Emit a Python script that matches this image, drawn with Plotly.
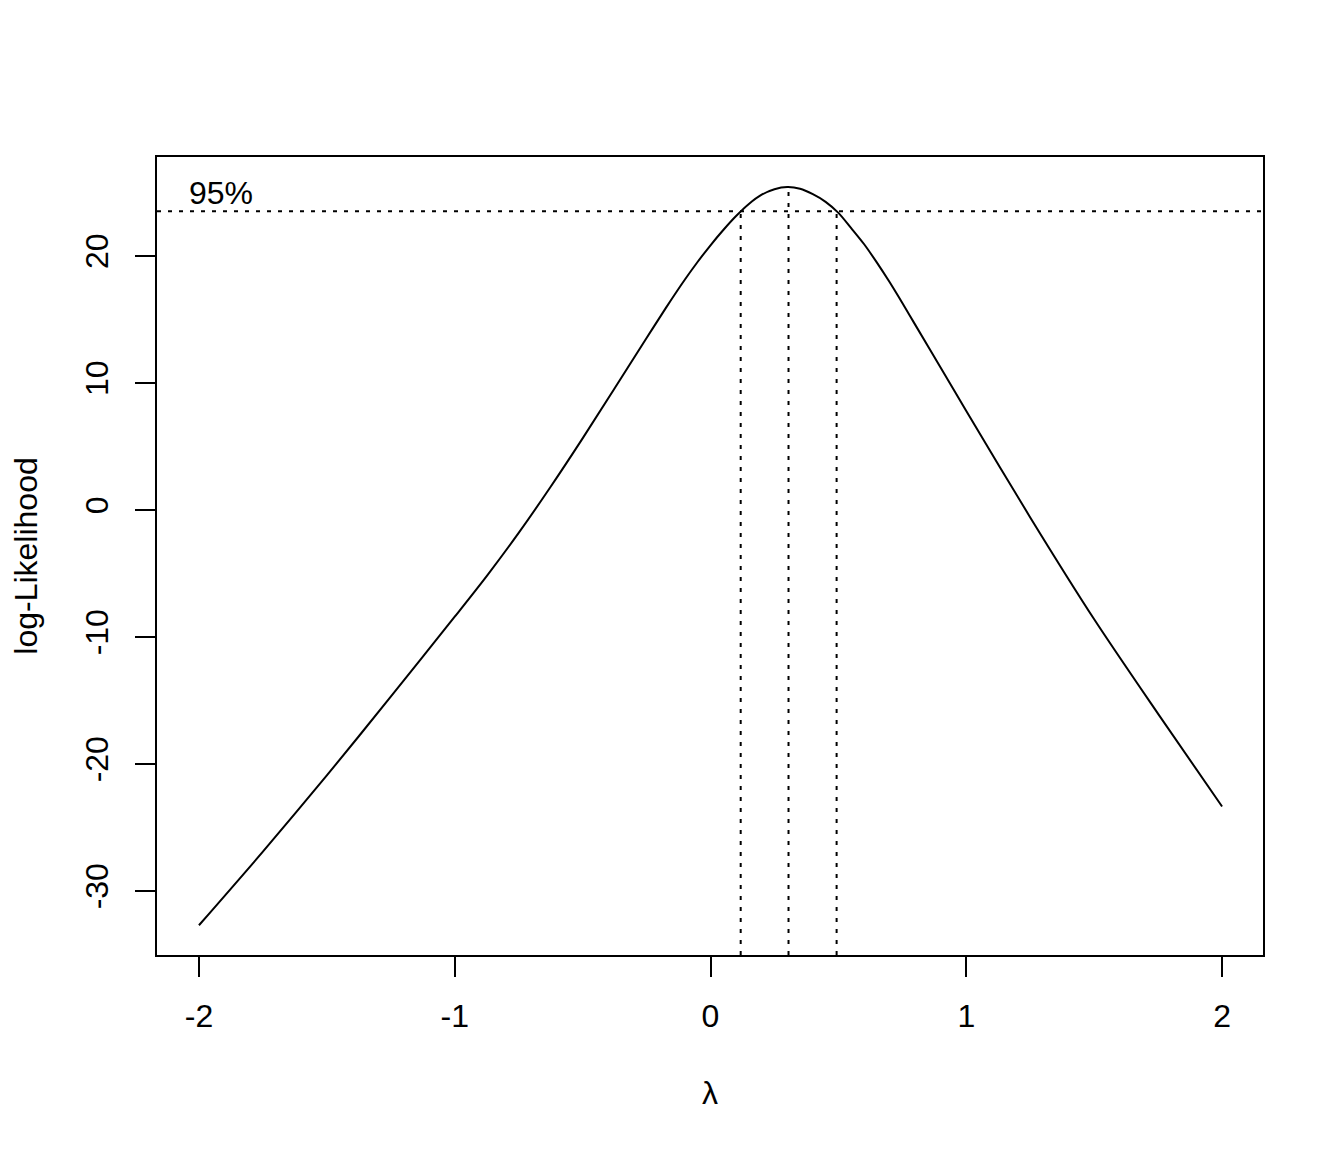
import plotly.graph_objects as go

# Box-Cox profile log-likelihood
lam = [-2.0, -1.75, -1.5, -1.25, -1.0, -0.875, -0.75, -0.625, -0.5, -0.25, -0.175, -0.1, -0.05,
       0.0, 0.05, 0.1, 0.15, 0.2, 0.25, 0.3, 0.35, 0.4, 0.45, 0.5, 0.55, 0.6, 0.65, 0.7,
       0.75, 0.8, 0.9, 1.0, 1.25, 1.5, 1.75, 2.0]
loglik = [-32.7, -26.9, -20.9, -14.7, -8.4, -5.2, -1.8, 1.83, 5.64, 13.55, 15.9, 18.15, 19.55,
          20.85, 22.05, 23.15, 24.1, 24.83, 25.26, 25.43, 25.3, 24.87, 24.27, 23.4, 22.2, 20.95,
          19.5, 17.95, 16.3, 14.6, 11.2, 7.8, -0.58, -8.6, -16.05, -23.35]

lam_hat = 0.305
ll_max = 25.43
ci_lower = 0.118
ci_upper = 0.493
lim95 = 23.53

x_ticks = [-2, -1, 0, 1, 2]
y_ticks = [-30, -20, -10, 0, 10, 20]
x_range = [-2.164, 2.16]
y_range = [-35.04, 27.8]

FONT = "Liberation Sans, Arial, sans-serif"
FS = 32
dot = dict(color="black", width=2, dash="4px,7px")

fig = go.Figure()
fig.add_trace(go.Scatter(x=lam, y=loglik, mode="lines",
                         line=dict(color="black", width=2, shape="spline", smoothing=0.8),
                         hoverinfo="skip", showlegend=False))
# 95% horizontal line across the full plot
fig.add_trace(go.Scatter(x=x_range, y=[lim95, lim95], mode="lines", line=dot,
                         showlegend=False, hoverinfo="skip"))
# vertical lines
for xv, yv in [(ci_lower, lim95), (lam_hat, ll_max), (ci_upper, lim95)]:
    fig.add_trace(go.Scatter(x=[xv, xv], y=[y_range[0], yv], mode="lines", line=dot,
                             showlegend=False, hoverinfo="skip"))

fig.add_annotation(x=-1.912, y=24.96, text="95%", showarrow=False,
                   xanchor="center", yanchor="middle",
                   font=dict(family=FONT, size=FS, color="black"))

axis_common = dict(showline=True, linecolor="black", linewidth=2, mirror=True,
                   ticks="outside", ticklen=20, tickwidth=2, tickcolor="black",
                   showgrid=False, zeroline=False, automargin=False,
                   tickfont=dict(family=FONT, size=FS, color="black"))

fig.update_layout(
    width=1328, height=1136,
    margin=dict(l=149, r=73, t=149, b=189, autoexpand=False),
    paper_bgcolor="white", plot_bgcolor="white",
    font=dict(family=FONT, size=FS, color="black"),
    xaxis=dict(range=x_range, tickvals=x_ticks, ticktext=[str(v) for v in x_ticks],
               title=dict(text="λ", font=dict(family=FONT, size=FS), standoff=48),
               ticklabelstandoff=12, **axis_common),
    yaxis=dict(range=y_range, tickvals=y_ticks, ticktext=[str(v) for v in y_ticks],
               tickangle=-90,
               title=dict(text="log-Likelihood", font=dict(family=FONT, size=FS), standoff=42),
               ticklabelstandoff=14, **axis_common),
)

fig.write_html("out.html")
